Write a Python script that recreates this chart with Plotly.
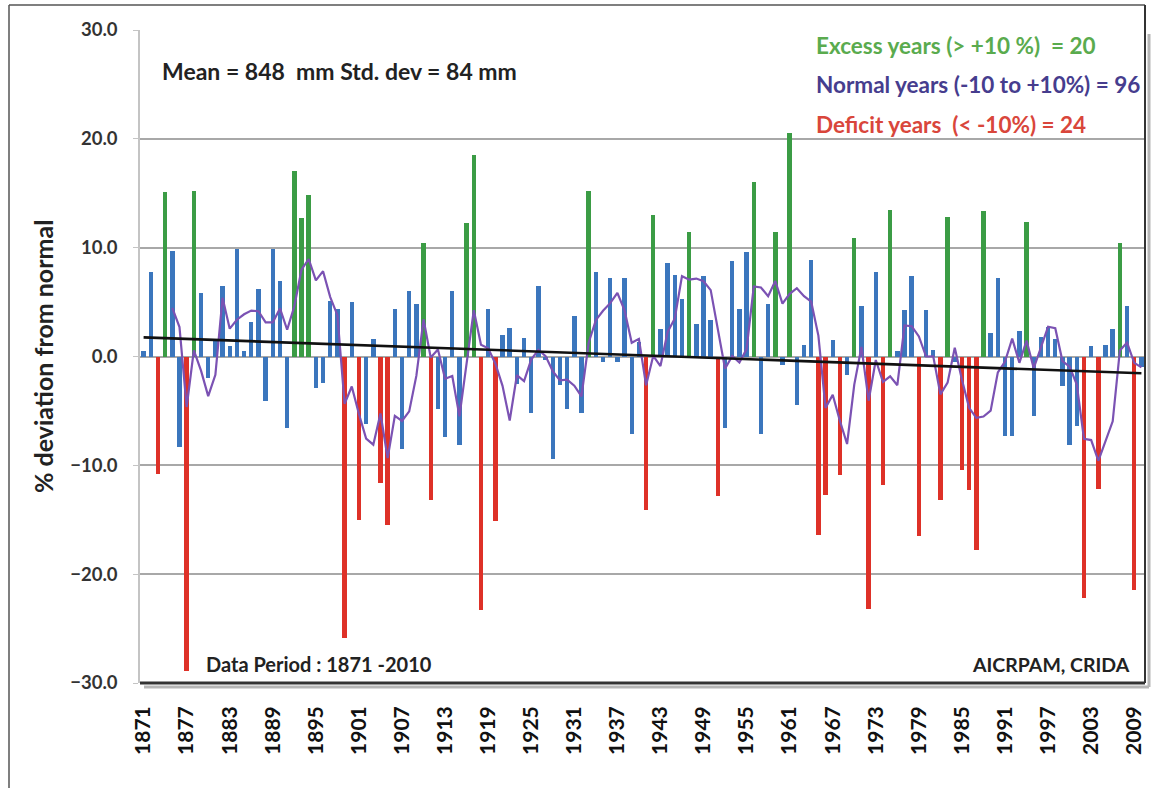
import numpy as np
import pandas as pd
import plotly.graph_objects as go

# All-India monsoon rainfall, % deviation from the long-period mean
years = list(range(1871, 2011))
deviation = [
    0.5, 7.8, -10.8, 15.1, 9.7, -8.3, -28.9, 15.2, 5.8, -2.0,      # 1871-1880
    1.5, 6.5, 1.0, 9.9, 0.5, 3.2, 6.2, -4.1, 9.9, 6.9,             # 1881-1890
    -6.6, 17.0, 12.7, 14.8, -2.9, -2.4, 5.1, 4.4, -25.9, 5.0,      # 1891-1900
    -15.0, -6.2, 1.6, -11.6, -15.5, 4.4, -8.5, 6.0, 4.8, 10.4,     # 1901-1910
    -13.2, -4.8, -7.4, 6.0, -8.1, 12.3, 18.5, -23.3, 4.4, -15.1,   # 1911-1920
    2.0, 2.6, -2.5, 1.7, -5.2, 6.5, -0.3, -9.4, -2.6, -4.8,        # 1921-1930
    3.7, -5.2, 15.2, 7.8, -0.5, 7.2, -0.5, 7.2, -7.1, 1.3,         # 1931-1940
    -14.1, 13.0, 2.5, 8.6, 7.5, 5.3, 11.4, 3.0, 7.4, 3.4,          # 1941-1950
    -12.8, -6.6, 8.8, 4.4, 9.6, 16.0, -7.1, 4.8, 11.4, -0.8,       # 1951-1960
    20.5, -4.5, 1.1, 8.9, -16.4, -12.7, 1.5, -10.9, -1.7, 10.9,    # 1961-1970
    4.6, -23.2, 7.8, -11.8, 13.5, 0.5, 4.3, 7.4, -16.5, 4.3,       # 1971-1980
    0.6, -13.2, 12.8, -0.5, -10.4, -12.3, -17.8, 13.4, 2.2, 7.2,   # 1981-1990
    -7.3, -7.3, 2.3, 12.4, -5.5, 1.8, 2.7, 1.6, -2.7, -8.1,        # 1991-2000
    -6.4, -22.2, 1.0, -12.2, 1.1, 2.5, 10.4, 4.6, -21.5, -1.0,     # 2001-2010
]
tick_years = years[::6]
tick_labels = [str(y) for y in tick_years]

excess_color = "#3b9c45"
normal_color = "#3b76bd"
deficit_color = "#de3128"
ma_color = "#7b52b3"

bar_colors = [excess_color if v > 10 else deficit_color if v < -10 else normal_color
              for v in deviation]

# 5-year moving average and linear trend of the series
ma5 = pd.Series(deviation).rolling(5).mean()
slope, intercept = np.polyfit(years, deviation, 1)
trend = slope * np.array(years) + intercept

W, H = 1161, 788
L, R, T, B = 140, 1145, 30, 683
PW, PH = R - L, B - T


def px(x):
    return (x - L) / PW


def py(y):
    return (B - y) / PH


FONT = "Lato"

fig = go.Figure()
fig.add_trace(go.Bar(x=years, y=deviation, marker=dict(color=bar_colors, line=dict(width=0)),
                     width=0.62, showlegend=False))
fig.add_trace(go.Scatter(x=years, y=ma5, mode="lines", line=dict(color=ma_color, width=2.2),
                         showlegend=False))
fig.add_trace(go.Scatter(x=years, y=trend, mode="lines", line=dict(color="#111111", width=2.6),
                         showlegend=False))

fig.update_layout(
    width=W, height=H,
    margin=dict(l=L, r=W - R, t=T, b=H - B, pad=0),
    paper_bgcolor="#ffffff", plot_bgcolor="#ffffff",
    bargap=0,
    xaxis=dict(range=[1870.5, 2010.5], tickmode="array", tickvals=tick_years, ticktext=tick_labels,
               tickangle=-90, tickfont=dict(family=FONT, size=21, color="#111111", weight="bold"),
               showgrid=False, zeroline=False, showline=False, ticks="", ticklabelstandoff=18),
    yaxis=dict(range=[-30, 30], tickmode="array", tickvals=[-30, -20, -10, 0, 10, 20, 30],
               tickformat=".1f", tickfont=dict(family=FONT, size=18.5, color="#333333", weight="bold"),
               showgrid=True, gridcolor="#a8a8a8", gridwidth=1.5, zeroline=False,
               showline=True, linecolor="#c4c4c4", linewidth=1.5,
               ticks="outside", ticklen=5, tickcolor="#c4c4c4", ticklabelstandoff=12),
)

# plot-area frame: dark right and bottom edges with a soft drop shadow
fig.add_shape(type="line", xref="paper", yref="paper", x0=px(R + 4), x1=px(R + 4),
              y0=py(T + 4), y1=py(B + 4), line=dict(color="#b5b5b5", width=3))
fig.add_shape(type="line", xref="paper", yref="paper", x0=px(L + 4), x1=px(R + 4),
              y0=py(B + 4), y1=py(B + 4), line=dict(color="#b5b5b5", width=3))
fig.add_shape(type="line", xref="paper", yref="paper", x0=1, x1=1, y0=0, y1=py(5),
              line=dict(color="#333333", width=2))
fig.add_shape(type="line", xref="paper", yref="paper", x0=0, x1=1, y0=0, y1=0,
              line=dict(color="#333333", width=3))
# outer chart border (left and top edges)
fig.add_shape(type="line", xref="paper", yref="paper", x0=px(9), x1=px(9), y0=py(800), y1=py(5),
              line=dict(color="#555555", width=1.5), layer="below")
fig.add_shape(type="line", xref="paper", yref="paper", x0=px(9), x1=1, y0=py(5), y1=py(5),
              line=dict(color="#555555", width=1.5), layer="below")

fig.add_annotation(xref="paper", yref="paper", x=px(43), y=py(357), text="% deviation from normal",
                   textangle=-90, showarrow=False, xanchor="center", yanchor="middle",
                   font=dict(family=FONT, size=25, color="#222222", weight="bold"))

fig.add_annotation(xref="paper", yref="paper", x=px(160), y=py(71),
                   text="Mean = 848  mm Std. dev = 84 mm", showarrow=False,
                   xanchor="left", yanchor="middle",
                   font=dict(family=FONT, size=23, color="#222222", weight="bold"))

legend_lines = [
    ("Excess years (> +10 %)  = 20", "#5aab4e", 45),
    ("Normal years (-10 to +10%) = 96", "#463d8e", 85),
    ("Deficit years  (< -10%) = 24", "#d9463b", 125),
]
for txt, col, ypix in legend_lines:
    fig.add_annotation(xref="paper", yref="paper", x=px(814), y=py(ypix), text=txt,
                       showarrow=False, xanchor="left", yanchor="middle",
                       font=dict(family=FONT, size=22.5, color=col, weight="bold"))

fig.add_annotation(xref="paper", yref="paper", x=px(204), y=py(664), text="Data Period : 1871 -2010",
                   showarrow=False, xanchor="left", yanchor="middle",
                   font=dict(family=FONT, size=20, color="#222222", weight="bold"))
fig.add_annotation(xref="paper", yref="paper", x=px(1132), y=py(664), text="AICRPAM, CRIDA",
                   showarrow=False, xanchor="right", yanchor="middle",
                   font=dict(family=FONT, size=19.5, color="#222222", weight="bold"))

fig.write_html("out.html")
